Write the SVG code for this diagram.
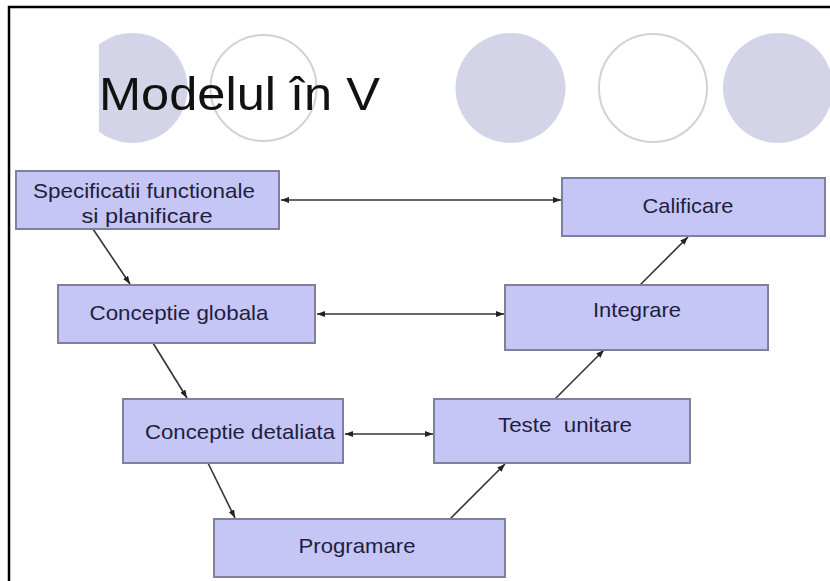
<svg xmlns="http://www.w3.org/2000/svg" width="830" height="581" viewBox="0 0 830 581">
  <defs>
    <style>
      .deco-fill { fill: #d4d4e8; }
      .deco-ring { fill: #ffffff; stroke: #d2d2d2; stroke-width: 2; }
      .box { fill: #c6c6f6; stroke: #80809c; stroke-width: 2; }
      .label { font-family: "Liberation Sans", Arial, sans-serif; font-size: 21px; fill: #1e1e40; text-anchor: middle; }
      .title { font-family: "Liberation Sans", Arial, sans-serif; font-size: 46px; fill: #111111; }
      .conn { stroke: #333333; stroke-width: 1.6; fill: none; marker-end: url(#arrow); }
      .conn2 { marker-start: url(#arrow); }
    </style>
    <marker id="arrow" viewBox="0 0 8 6" refX="8" refY="3" markerWidth="8" markerHeight="6" markerUnits="userSpaceOnUse" orient="auto-start-reverse">
      <path d="M0,0 L8,3 L0,6 z" fill="#222222"/>
    </marker>
    <clipPath id="clipLeft">
      <rect x="99" y="0" width="731" height="581"/>
    </clipPath>
  </defs>

  <rect x="0" y="0" width="830" height="581" fill="#ffffff"/>

  <g id="frame">
    <path d="M9,581 L9,7 L830,7" fill="none" stroke="#000000" stroke-width="2.5"/>
  </g>

  <g id="decoration">
    <circle class="deco-fill" cx="132.5" cy="88" r="55" clip-path="url(#clipLeft)"/>
    <circle class="deco-ring" cx="263.5" cy="88" r="53"/>
    <circle class="deco-fill" cx="510.5" cy="88" r="55"/>
    <circle class="deco-ring" cx="653" cy="88" r="54"/>
    <circle class="deco-fill" cx="778" cy="88" r="55"/>
  </g>

  <g id="title">
    <text class="title" x="99" y="110" textLength="281" lengthAdjust="spacingAndGlyphs">Modelul în V</text>
  </g>

  <g id="connectors">
    <line class="conn conn2" x1="281" y1="200" x2="561" y2="200"/>
    <line class="conn conn2" x1="317" y1="314" x2="504" y2="314"/>
    <line class="conn conn2" x1="345" y1="434" x2="433" y2="434"/>
    <line class="conn" x1="93" y1="229" x2="130" y2="284"/>
    <line class="conn" x1="153" y1="343" x2="187" y2="398"/>
    <line class="conn" x1="208" y1="463" x2="235" y2="518"/>
    <line class="conn" x1="450" y1="519" x2="505" y2="464"/>
    <line class="conn" x1="555" y1="399" x2="604" y2="350"/>
    <line class="conn" x1="640" y1="285" x2="688" y2="237"/>
  </g>

  <g id="node-specificatii">
    <rect class="box" x="16" y="171" width="263" height="58"/>
    <text class="label" x="144" y="198" textLength="222" lengthAdjust="spacingAndGlyphs">Specificatii functionale</text>
    <text class="label" x="147" y="223" textLength="131" lengthAdjust="spacingAndGlyphs">si planificare</text>
  </g>

  <g id="node-conceptie-globala">
    <rect class="box" x="58" y="285" width="257" height="58"/>
    <text class="label" x="179" y="320" textLength="179" lengthAdjust="spacingAndGlyphs">Conceptie globala</text>
  </g>

  <g id="node-conceptie-detaliata">
    <rect class="box" x="123" y="399" width="220" height="64"/>
    <text class="label" x="240" y="439" textLength="190" lengthAdjust="spacingAndGlyphs">Conceptie detaliata</text>
  </g>

  <g id="node-programare">
    <rect class="box" x="214" y="519" width="291" height="58"/>
    <text class="label" x="357" y="553" textLength="117" lengthAdjust="spacingAndGlyphs">Programare</text>
  </g>

  <g id="node-teste-unitare">
    <rect class="box" x="434" y="399" width="256" height="64"/>
    <text class="label" x="565" y="432" textLength="134" lengthAdjust="spacingAndGlyphs" xml:space="preserve">Teste  unitare</text>
  </g>

  <g id="node-integrare">
    <rect class="box" x="505" y="285" width="263" height="65"/>
    <text class="label" x="637" y="317" textLength="88" lengthAdjust="spacingAndGlyphs">Integrare</text>
  </g>

  <g id="node-calificare">
    <rect class="box" x="562" y="178" width="263" height="58"/>
    <text class="label" x="688" y="213" textLength="91" lengthAdjust="spacingAndGlyphs">Calificare</text>
  </g>
</svg>
